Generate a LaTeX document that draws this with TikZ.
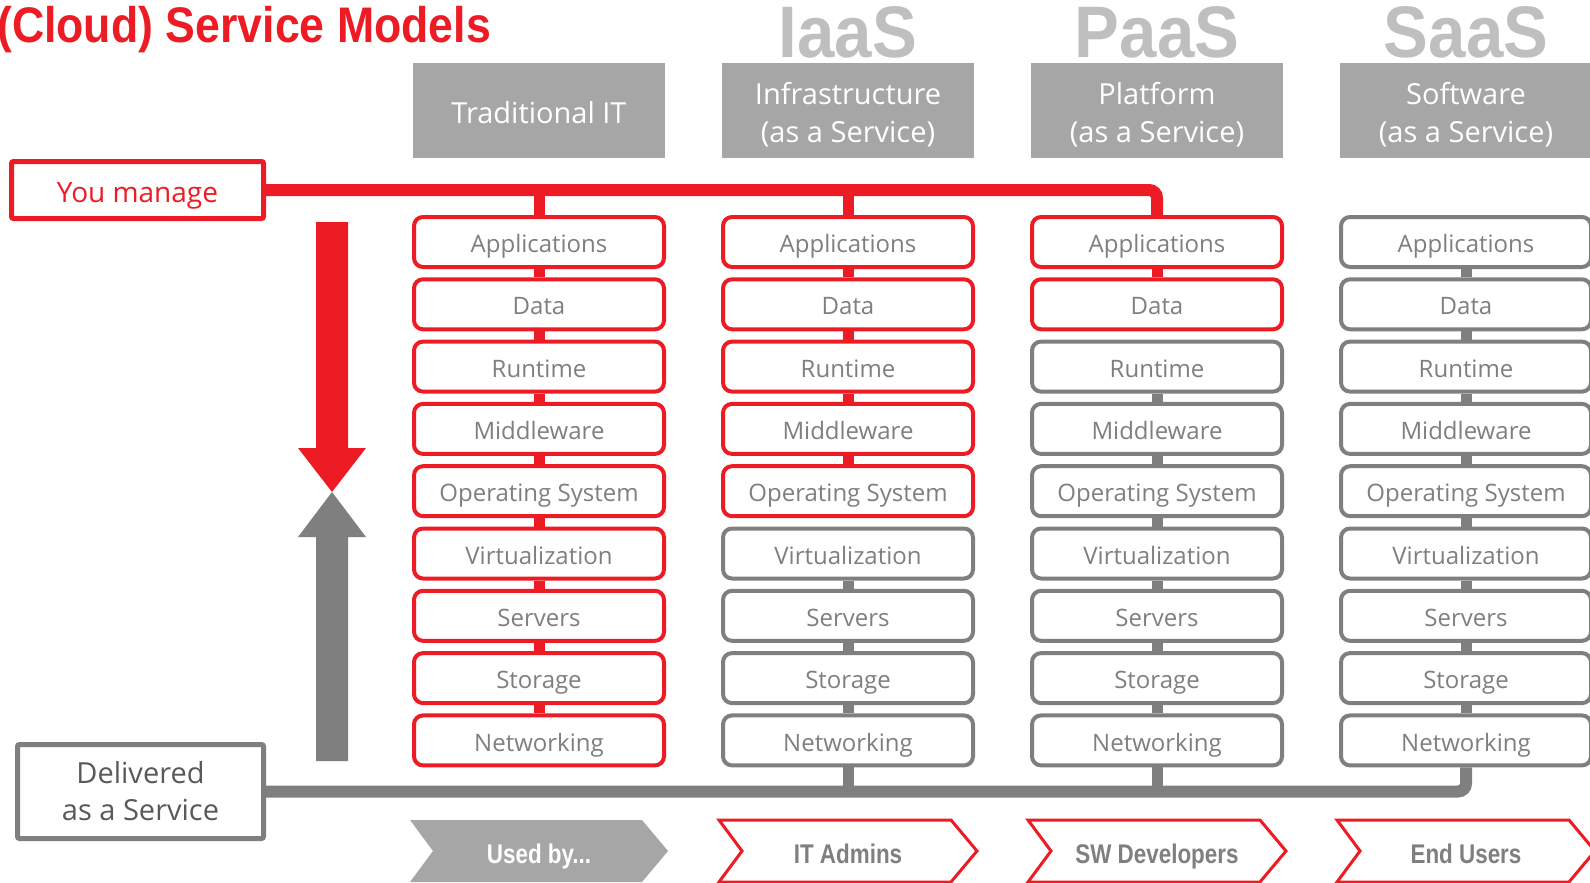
\documentclass[tikz,border=0pt]{standalone}
\usepackage{fontspec}
\setmainfont{Open Sans}
\newfontfamily\boldsans{Liberation Sans}[BoldFont={Liberation Sans Bold}]
\definecolor{brandred}{HTML}{ED1C24}
\definecolor{midgray}{HTML}{7F7F7F}
\definecolor{headgray}{HTML}{A6A6A6}
\definecolor{paleGray}{HTML}{BFBFBF}
\definecolor{darkGray}{HTML}{595959}
\def\layers{Applications,Data,Runtime,Middleware,Operating System,Virtualization,Servers,Storage,Networking}
\begin{document}
\begin{tikzpicture}[x=1pt,y=-1pt,
  layerbox/.style={draw, line width=4pt, rounded corners=9pt, minimum width=250pt,
    minimum height=50pt, inner sep=0pt, fill=white, text=midgray,
    text height=21.2pt, text depth=0pt, font=\fontsize{24}{28}\selectfont},
  header/.style={fill=headgray, minimum width=252pt, minimum height=95pt, inner sep=0pt},
  headtext/.style={text=white, inner sep=0pt, align=center, font=\fontsize{29}{38}\selectfont},
  modelname/.style={anchor=base, text=paleGray, inner sep=0pt,
    font=\boldsans\bfseries\fontsize{73}{80}\selectfont},
  sidebox/.style={draw, line width=5pt, rounded corners=2pt, inner sep=0pt, fill=white, align=center},
  bus/.style={line width=12pt},
  stub/.style={line width=11pt},
  chevron/.style={line width=3pt, line join=miter},
  chevtext/.style={inner sep=0pt, text height=20pt, text depth=0pt,
    font=\boldsans\bfseries\fontsize{27}{30}\selectfont}
]
\useasboundingbox (0,0) rectangle (1590,883);

% title
\node[anchor=base west, inner sep=0pt, text=brandred] (title) at (-3,43)
  {\scalebox{0.893}[1]{\boldsans\bfseries\fontsize{50}{55}\selectfont (Cloud) Service Models}};

% model abbreviations
\node[modelname] (iaas) at (848,58) {\scalebox{0.92}[1]{IaaS}};
\node[modelname] (paas) at (1157,58) {\scalebox{0.92}[1]{PaaS}};
\node[modelname] (saas) at (1466,58) {\scalebox{0.92}[1]{SaaS}};

% column headers
\node[header] (htrad) at (539,110.5) {};
\node[header] (hiaas) at (848,110.5) {};
\node[header] (hpaas) at (1157,110.5) {};
\node[header] (hsaas) at (1466,110.5) {};
\node[headtext] (ttrad) at ([yshift=-2pt]htrad.center) {Traditional IT};
\node[headtext] (tiaas) at ([yshift=-4pt]hiaas.center) {Infrastructure\\(as a Service)};
\node[headtext] (tpaas) at ([yshift=-4pt]hpaas.center) {Platform\\(as a Service)};
\node[headtext] (tsaas) at ([yshift=-4pt]hsaas.center) {Software\\(as a Service)};

% side labels
\node[sidebox, draw=brandred, text=brandred, minimum width=252pt, minimum height=57pt,
  text height=25pt, text depth=0pt,
  font=\fontsize{28}{32}\selectfont] (manage) at (137.5,190) {You manage};
\node[sidebox, draw=midgray, text=darkGray, minimum width=246pt, minimum height=94pt,
  font=\fontsize{29}{37}\selectfont] (deliv) at (140.5,791.5) {Delivered\\as a Service};

% layer stacks: t = traditional, i = IaaS, p = PaaS, s = SaaS
\foreach \col/\xc/\nred in {t/539/9, i/848/5, p/1157/2, s/1466/0} {
  \foreach \lab [count=\r from 0] in \layers {
    \pgfmathsetmacro\yy{242+62.3*\r}
    \ifnum\r<\nred \def\lc{brandred}\else\def\lc{midgray}\fi
    \node[layerbox, draw=\lc] (\col\r) at (\xc,\yy) {\lab};
  }
  \foreach \r in {1,...,8} {
    \pgfmathtruncatemacro\prev{\r-1}
    \ifnum\r<\nred
      \draw[stub, brandred] (\col\prev.south) -- (\col\r.north);
    \else\ifnum\prev<\nred\else
      \draw[stub, midgray] (\col\prev.south) -- (\col\r.north);
    \fi\fi
  }
}

% "you manage" bus
\draw[bus, brandred, rounded corners=8pt] (manage.east) -| (p0.north);
\draw[stub, brandred] (t0.north) -- (t0.north |- manage.east);
\draw[stub, brandred] (i0.north) -- (i0.north |- manage.east);

% "delivered as a service" bus
\draw[bus, midgray, rounded corners=8pt] (deliv.east) -| (s8.south);
\draw[stub, midgray] (i8.south) -- (i8.south |- deliv.east);
\draw[stub, midgray] (p8.south) -- (p8.south |- deliv.east);

% opposing arrows
\fill[brandred] (316,222) -- (348,222) -- (348,448) -- (366,448) -- (332,492)
  -- (298,448) -- (316,448) -- cycle;
\fill[midgray] (316,761) -- (348,761) -- (348,537) -- (366,537) -- (332,492)
  -- (298,537) -- (316,537) -- cycle;

% "used by" chevrons
\foreach \xc/\nm/\txt in {539/used/{Used by...}, 848/admins/{IT Admins},
                          1157/devs/{SW Developers}, 1466/users/{End Users}} {
  \ifnum\xc=539
    \fill[headgray] (\xc-129,820) -- (\xc+103,820) -- (\xc+129,851) -- (\xc+103,882)
      -- (\xc-129,882) -- (\xc-106,851) -- cycle;
    \node[chevtext, text=white] (\nm) at (\xc,853) {\scalebox{0.83}[1]{\txt}};
  \else
    \draw[chevron, brandred, fill=white] (\xc-129,820) -- (\xc+103,820) -- (\xc+129,851)
      -- (\xc+103,882) -- (\xc-129,882) -- (\xc-106,851) -- cycle;
    \node[chevtext, text=midgray] (\nm) at (\xc,853) {\scalebox{0.83}[1]{\txt}};
  \fi
}
\end{tikzpicture}
\end{document}
